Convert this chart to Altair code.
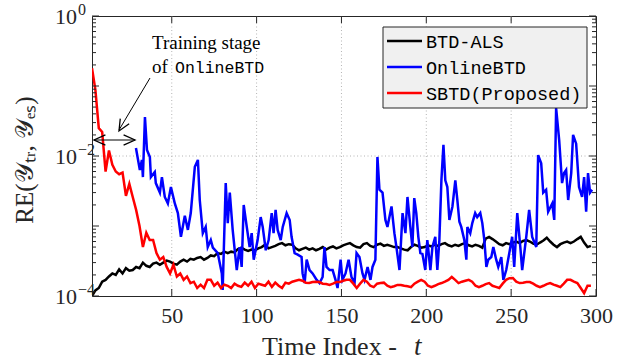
import altair as alt
import pandas as pd

# ---------------- data ----------------
series_names = ["BTD-ALS", "OnlineBTD", "SBTD(Proposed)"]
series_colors = ["#000000", "#0000ff", "#ff0000"]

# BTD-ALS and SBTD sampled at t = 3, 5, 7, ..., 297
t_grid = list(range(3, 298, 2))

red_v = [
    0.18, 0.088, 0.025, 0.022, 0.006, 0.012, 0.0075, 0.006, 0.0055, 0.0058,
    0.0027, 0.004, 0.0026, 0.0017, 0.001, 0.0005, 0.0008, 0.00063, 0.00063, 0.00041,
    0.00033, 0.00036, 0.00026, 0.00021, 0.00028, 0.00019, 0.00021, 0.00017, 0.00019, 0.000153,
    0.00016, 0.00013, 0.000145, 0.00013, 0.00017, 0.00017, 0.00014, 0.000155, 0.00013, 0.000145,
    0.00014, 0.00013, 0.00015, 0.00014, 0.000135, 0.000155, 0.00014, 0.00016, 0.00013, 0.00015,
    0.000145, 0.00014, 0.00016, 0.000135, 0.000155, 0.00014, 0.00013, 0.000155, 0.00015, 0.00016,
    0.000165, 0.00017, 0.000165, 0.000155, 0.000153, 0.000158, 0.00016, 0.000158, 0.00015, 0.000148,
    0.000144, 0.00015, 0.000158, 0.000158, 0.000165, 0.00017, 0.00017, 0.00015, 0.00013, 0.00015,
    0.00017, 0.00016, 0.00014, 0.000134, 0.00015, 0.000153, 0.000155, 0.00014, 0.000134, 0.000138,
    0.000144, 0.000144, 0.00014, 0.000138, 0.000134, 0.00015, 0.00016, 0.00017, 0.00016, 0.00014,
    0.000134, 0.00014, 0.000148, 0.000153, 0.00016, 0.00017, 0.000187, 0.00017, 0.000153, 0.00016,
    0.000165, 0.00017, 0.00016, 0.00014, 0.000134, 0.00014, 0.000148, 0.000153, 0.00014, 0.000135,
    0.00013, 0.00015, 0.00017, 0.00018, 0.000181, 0.00016, 0.000153, 0.000155, 0.000158, 0.000158,
    0.00015, 0.00014, 0.000134, 0.00014, 0.000148, 0.000153, 0.000145, 0.00014, 0.000134, 0.00015,
    0.00017, 0.00017, 0.00016, 0.000153, 0.00013, 0.00011, 0.00014, 0.00014,
]

black_v = [
    0.0001, 0.00012, 0.00013, 0.00016, 0.00017, 0.00019, 0.00021, 0.0002, 0.00024, 0.00021,
    0.00025, 0.00023, 0.000235, 0.00026, 0.00025, 0.0003, 0.00027, 0.00026, 0.00029, 0.0003,
    0.00028, 0.0003, 0.00032, 0.00031, 0.00029, 0.00028, 0.00031, 0.00033, 0.00031, 0.00034,
    0.00033, 0.00035, 0.00036, 0.00033, 0.00035, 0.00038, 0.00037, 0.00041, 0.0004, 0.00043,
    0.00041, 0.00043, 0.00042, 0.00047, 0.00049, 0.00046, 0.00044, 0.00046, 0.00045, 0.00048,
    0.0005, 0.00054, 0.00048, 0.0005, 0.00052, 0.00055, 0.00057, 0.00053, 0.00055, 0.00054,
    0.00048, 0.00045, 0.00047, 0.00049, 0.00046, 0.00048, 0.00045, 0.00047, 0.0005, 0.00046,
    0.00049, 0.00051, 0.00048, 0.0005, 0.00053, 0.00055, 0.00057, 0.00053, 0.0005, 0.00049,
    0.00055, 0.00057, 0.00052, 0.0005, 0.00054, 0.00056, 0.00052, 0.00054, 0.00052, 0.0005,
    0.0005, 0.00048, 0.00046, 0.00045, 0.0005, 0.00054, 0.00052, 0.00049, 0.0005, 0.00053,
    0.00051, 0.00054, 0.00052, 0.00055, 0.00057, 0.00053, 0.00051, 0.00054, 0.00052, 0.00055,
    0.00057, 0.00053, 0.00051, 0.00054, 0.00052, 0.00049, 0.00066, 0.0007, 0.00065, 0.0006,
    0.00055, 0.00053, 0.00057, 0.00055, 0.00058, 0.0006, 0.00057, 0.00061, 0.00063, 0.0006,
    0.00056, 0.00054, 0.00058, 0.00062, 0.00068, 0.0006, 0.00054, 0.0005, 0.00055, 0.00058,
    0.0006, 0.00057, 0.0006, 0.00065, 0.0007, 0.00058, 0.0005, 0.00052,
]

blue_t = [
    28.9, 31.2, 32.4, 33.0, 34.2, 35.4, 37.1, 37.7, 40.0, 40.6,
    43.0, 44.2, 45.9, 47.7, 49.5, 51.8, 53.6, 55.4, 57.7, 59.5,
    61.2, 63.6, 65.4, 66.5, 68.3, 70.0, 71.2, 73.0, 74.2, 77.1,
    79.5, 80.0, 81.8, 83.0, 84.2, 85.9, 88.3, 90.0, 91.2, 92.4,
    94.2, 95.9, 97.1, 98.3, 100.6, 102.4, 103.6, 105.4, 107.1, 108.9,
    110.0, 111.2, 112.4, 114.2, 115.4, 117.7, 119.5, 120.6, 122.4, 124.2,
    126.5, 127.1, 128.3, 129.5, 131.2, 133.0, 135.4, 137.1, 138.9, 140.0,
    141.2, 143.0, 144.8, 146.5, 147.7, 149.5, 150.6, 152.4, 154.2, 155.9,
    157.7, 158.9, 160.6, 162.4, 163.6, 165.4, 167.1, 168.3, 170.0, 171.2,
    172.4, 174.2, 175.9, 177.1, 179.5, 181.2, 182.4, 184.2, 186.0, 187.7,
    188.9, 190.6, 191.8, 192.9, 194.1, 195.3, 196.5, 197.7, 199.4, 200.6,
    202.4, 203.6, 205.3, 206.5, 207.7, 208.9, 210.1, 211.2, 212.4, 213.6,
    215.4, 217.1, 218.3, 219.5, 220.6, 222.4, 223.6, 224.2, 225.9, 227.1,
    228.8, 230.0, 231.8, 233.0, 234.2, 235.4, 236.5, 238.3, 239.5, 241.2,
    242.4, 244.2, 245.4, 247.1, 248.9, 250.6, 251.8, 253.6, 255.4, 256.5,
    258.9, 260.6, 262.4, 264.8, 265.9, 267.7, 268.9, 270.6, 271.8, 274.2,
    275.4, 276.5, 278.3, 280.0, 281.2, 282.4, 283.6, 285.4, 286.5, 288.3,
    290.0, 291.8, 293.0, 294.2, 295.3, 296.5, 297.7,
]
blue_v = [
    0.013, 0.0063, 0.0088, 0.005, 0.036, 0.0122, 0.0097, 0.005, 0.0059, 0.0041,
    0.003, 0.005, 0.0026, 0.0021, 0.0036, 0.0021, 0.00153, 0.0007, 0.0014, 0.00088,
    0.00153, 0.007, 0.0088, 0.00235, 0.00079, 0.00097, 0.0005, 0.00063, 0.00049, 0.00041,
    0.00021, 0.000122, 0.0041, 0.0011, 0.003, 0.00088, 0.000235, 0.0005, 0.00026, 0.002,
    0.00097, 0.0005, 0.00079, 0.00033, 0.00063, 0.00134, 0.00097, 0.00045, 0.00063, 0.00153,
    0.00079, 0.0017, 0.00088, 0.00063, 0.00097, 0.00153, 0.00122, 0.0007, 0.00041, 0.00039,
    0.00036, 0.00021, 0.000153, 0.00033, 0.000235, 0.00021, 0.00017, 0.000153, 0.000187, 0.0005,
    0.00026, 0.000235, 0.000235, 0.00017, 0.00013, 0.00033, 0.00017, 0.00021, 0.00033, 0.000187,
    0.000153, 0.00041, 0.00036, 0.00021, 0.00017, 0.00026, 0.00017, 0.00026, 0.00033, 0.0097,
    0.0033, 0.003, 0.00122, 0.00097, 0.0019, 0.00079, 0.0005, 0.000235, 0.00153, 0.00079,
    0.0026, 0.00097, 0.0005, 0.0025, 0.00153, 0.0007, 0.00041, 0.0004, 0.000235, 0.00063,
    0.000235, 0.0005, 0.0007, 0.000235, 0.00063, 0.0045, 0.0144, 0.0045, 0.0036, 0.00122,
    0.0019, 0.0045, 0.00235, 0.00115, 0.00097, 0.00063, 0.00033, 0.00097, 0.00079, 0.0011,
    0.00153, 0.00134, 0.00153, 0.0011, 0.00063, 0.00026, 0.00033, 0.00036, 0.0005, 0.00033,
    0.00026, 0.00036, 0.00017, 0.000235, 0.00041, 0.0007, 0.00026, 0.00153, 0.0005, 0.000235,
    0.0007, 0.0017, 0.0007, 0.0005, 0.0103, 0.0079, 0.003, 0.0033, 0.0016, 0.0021,
    0.00122, 0.0485, 0.0169, 0.0041, 0.0057, 0.0063, 0.00235, 0.0057, 0.02, 0.015,
    0.0036, 0.0026, 0.005, 0.0016, 0.0057, 0.003, 0.0033,
]

x_tick_values = [50, 100, 150, 200, 250, 300]
x_grid_values = [50, 100, 150, 200, 250]
y_grid_values = [0.01]
y_label_values = [1, 0.01, 0.0001]
y_label_exps = ["0", "\u22122", "\u22124"]
y_major_ticks = [1, 0.1, 0.01, 0.001, 0.0001]
y_minor_ticks = [m * 10.0 ** k for k in range(-4, 0) for m in range(2, 10)]

# ---------------- chart ----------------
W, H = 504, 280
AX = "#262626"
GRID = "#b4b4b4"
SERIF = "Liberation Serif"
MONO = "Liberation Mono"
LW = 2.5

x_scale = alt.Scale(domain=[3, 300], nice=False, zero=False)
y_scale = alt.Scale(type="log", domain=[1e-4, 1], nice=False)
color_scale = alt.Scale(domain=series_names, range=series_colors)

x_axis = alt.Axis(values=x_tick_values, grid=False, ticks=False, domain=False,
                  labelFont=SERIF, labelFontSize=22, labelColor=AX, labelPadding=9,
                  title=None, labelFlush=False)
y_axis = alt.Axis(values=y_label_values, grid=False, ticks=False, domain=False,
                  labels=False, title=None)

X = lambda f: alt.X(f, scale=x_scale, axis=x_axis)
Y = lambda f: alt.Y(f, scale=y_scale, axis=y_axis)

# dotted grid
grid_layers = [
    alt.Chart(pd.DataFrame({"t": x_grid_values})).mark_rule(
        color=GRID, strokeWidth=1, strokeDash=[1, 2.5]).encode(x=X("t:Q")),
    alt.Chart(pd.DataFrame({"v": y_grid_values})).mark_rule(
        color=GRID, strokeWidth=1, strokeDash=[1, 2.5]).encode(y=Y("v:Q")),
]

df_black = pd.DataFrame({"t": t_grid, "v": black_v, "s": series_names[0]})
df_blue = pd.DataFrame({"t": blue_t, "v": blue_v, "s": series_names[1]})
df_red = pd.DataFrame({"t": t_grid, "v": red_v, "s": series_names[2]})

def line_layer(df):
    return alt.Chart(df).mark_line(strokeWidth=LW, clip=True).encode(
        x=X("t:Q"), y=Y("v:Q"),
        color=alt.Color("s:N", scale=color_scale, legend=None),
    )

lines = [line_layer(df_black), line_layer(df_blue), line_layer(df_red)]

# inward ticks (box style)
yt_major = pd.DataFrame({"v": y_major_ticks})
yt_minor = pd.DataFrame({"v": y_minor_ticks})
xt = pd.DataFrame({"t": x_tick_values})

def ytick(df, x0, x1):
    return alt.Chart(df).mark_rule(color=AX, strokeWidth=1).encode(
        y=Y("v:Q"), x=alt.value(x0), x2=alt.value(x1))

def xtick(y0, y1):
    return alt.Chart(xt).mark_rule(color=AX, strokeWidth=1).encode(
        x=X("t:Q"), y=alt.value(y0), y2=alt.value(y1))

ticks = [
    ytick(yt_major, 0, 7), ytick(yt_major, W, W - 7),
    ytick(yt_minor, 0, 4), ytick(yt_minor, W, W - 4),
    xtick(H, H - 7), xtick(0, 7),
]

# y tick labels 10^k
ylab = pd.DataFrame({"v": y_label_values, "base": ["10"] * 3, "exp": y_label_exps})
ylab_base = alt.Chart(ylab).mark_text(align="right", baseline="alphabetic", dy=8,
                                      font=SERIF, fontSize=22, color=AX).encode(
    y=Y("v:Q"), x=alt.value(-15), text="base:N")
ylab_exp = alt.Chart(ylab).mark_text(align="left", baseline="alphabetic", dy=-1,
                                     font=SERIF, fontSize=16, color=AX).encode(
    y=Y("v:Q"), x=alt.value(-14), text="exp:N")

one = pd.DataFrame({"a": [0]})

def txt(s, x, y, **kw):
    return alt.Chart(one).mark_text(**kw).encode(x=alt.value(x), y=alt.value(y), text=alt.value(s))

titles = [
    txt("Time Index -", 170, 339, align="left", baseline="alphabetic", font=SERIF, fontSize=26, color=AX),
    txt("t", 322, 339, align="left", baseline="alphabetic", font=SERIF, fontSize=27,
        fontStyle="italic", color=AX),
    txt("RE(\U0001D4B4\u209c\u1d63, \U0001D4B4\u2091\u209b)", -59, 144, align="center",
        baseline="alphabetic", angle=270, font=SERIF, fontSize=25, color=AX),
]

# legend box (manual, MATLAB style)
leg = pd.DataFrame({"s": series_names, "row": [0, 1, 2]})
LX, LY, LW_BOX, LH_BOX = 291, 11, 204, 81
legend_layers = [
    alt.Chart(one).mark_rect(fill="#f0f0f0", stroke=AX, strokeWidth=1).encode(
        x=alt.value(LX), x2=alt.value(LX + LW_BOX), y=alt.value(LY), y2=alt.value(LY + LH_BOX)),
]
for i, name in enumerate(series_names):
    yy = LY + 14 + 26 * i
    legend_layers.append(
        alt.Chart(leg[leg.s == name]).mark_rule(strokeWidth=LW).encode(
            x=alt.value(LX + 4), x2=alt.value(LX + 39), y=alt.value(yy), y2=alt.value(yy),
            color=alt.Color("s:N", scale=color_scale, legend=None)))
    legend_layers.append(
        alt.Chart(leg[leg.s == name]).mark_text(align="left", baseline="middle", font=MONO,
                                                fontSize=18.5, color="#000").encode(
            x=alt.value(LX + 43), y=alt.value(yy + 1), text="s:N"))

# annotation
annot = [
    txt("Training stage", 60, 33, align="left", baseline="alphabetic", font=SERIF, fontSize=19, color="#000"),
    txt("of", 60, 57, align="left", baseline="alphabetic", font=SERIF, fontSize=19, color="#000"),
    txt("OnlineBTD", 83, 57, align="left", baseline="alphabetic", font=MONO, fontSize=16.5, color="#000"),
    alt.Chart(one).mark_rule(color="#000", strokeWidth=1).encode(
        x=alt.value(58), y=alt.value(62), x2=alt.value(27), y2=alt.value(114)),
    alt.Chart(one).mark_rule(color="#000", strokeWidth=1).encode(
        x=alt.value(2), y=alt.value(124), x2=alt.value(43), y2=alt.value(124)),
]
chev = "M-1,-0.45L0,0L-1,0.45"
for (px, py, ang) in [(27, 115, 120), (2, 124, 180), (43, 124, 0)]:
    annot.append(alt.Chart(one).mark_point(shape=chev, filled=False, color="#000", strokeWidth=1.3,
                                           size=520, angle=ang, opacity=1).encode(
        x=alt.value(px), y=alt.value(py)))

chart = alt.layer(*grid_layers, *lines, *ticks, ylab_base, ylab_exp, *titles,
                  *legend_layers, *annot).properties(
    width=W, height=H,
    autosize=alt.AutoSizeParams(type="none"),
    padding={"left": 92, "top": 16, "right": 28, "bottom": 64},
    background="white",
).configure_view(stroke=AX, strokeWidth=1)

chart.save("out.html", embed_options={"renderer": "svg", "actions": False})
